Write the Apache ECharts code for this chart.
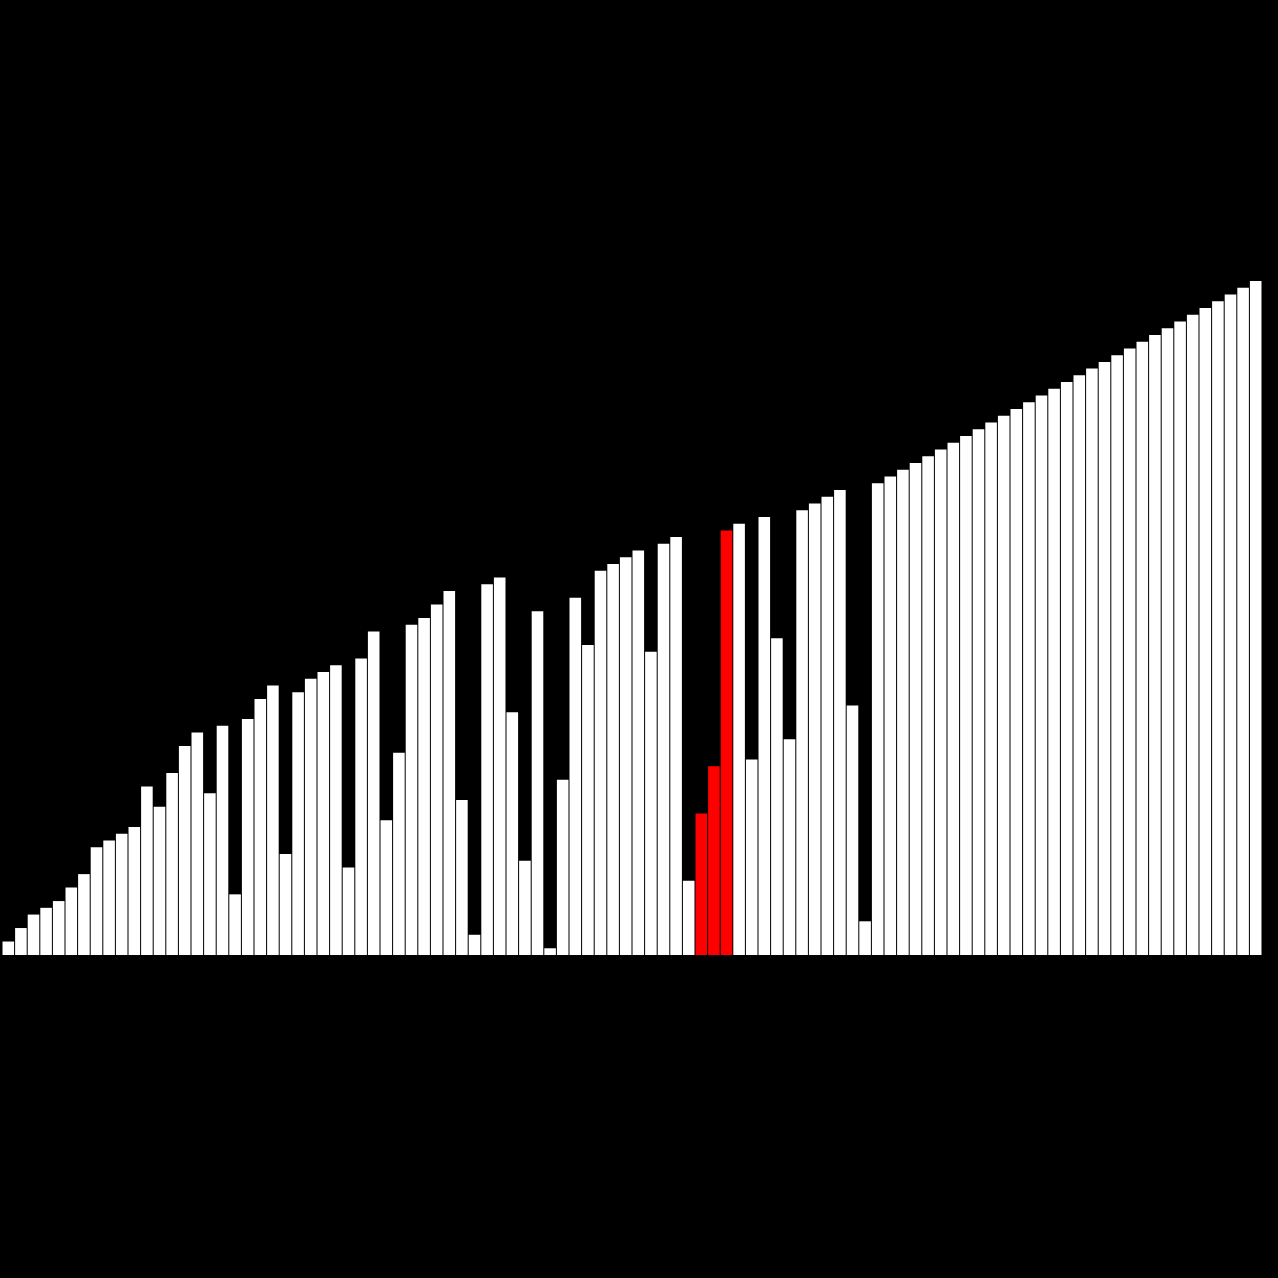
<!DOCTYPE html>
<html>
<head>
<meta charset="utf-8">
<script src="https://cdn.jsdelivr.net/npm/echarts@6/dist/echarts.min.js"></script>
<style>html,body{margin:0;padding:0;background:#000;}#c{width:1278px;height:1278px;}</style>
</head>
<body>
<div id="c"></div>
<script>
const values = [2,4,6,7,8,10,12,16,17,18,19,25,22,27,31,33,24,34,9,35,38,40,15,39,41,42,43,13,44,48,20,30,49,50,52,54,23,3,55,56,36,14,51,1,26,53,46,57,58,59,60,45,61,62,11,21,28,63,64,29,65,47,32,66,67,68,69,37,5,70,71,72,73,74,75,76,77,78,79,80,81,82,83,84,85,86,87,88,89,90,91,92,93,94,95,96,97,98,99,100];
const highlighted = [55,56,57];
const categories = values.map((v,i)=>String(i+1));
const chart = echarts.init(document.getElementById('c'));
chart.setOption({
  backgroundColor:'#000',
  animation:false,
  grid:{left:2,right:16,top:281,bottom:323},
  xAxis:{type:'category',data:categories,show:false},
  yAxis:{type:'value',min:0,max:100,show:false,splitLine:{show:false}},
  series:[{
    type:'bar',
    barCategoryGap:'8%',
    data:values.map((v,i)=>({value:v,itemStyle:{color:highlighted.includes(i)?'#ff0000':'#ffffff'}}))
  }]
});
</script>
</body>
</html>
